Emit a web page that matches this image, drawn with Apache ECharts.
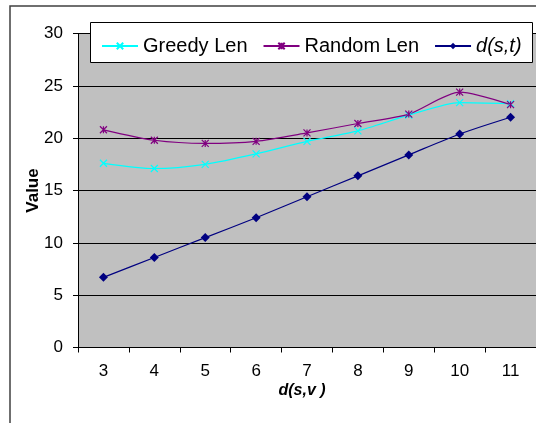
<!DOCTYPE html>
<html>
<head>
<meta charset="utf-8">
<script src="https://cdn.jsdelivr.net/npm/echarts@6/dist/echarts.min.js"></script>
<style>html,body{margin:0;padding:0;background:#fff;}#c{width:536px;height:423px;}</style>
</head>
<body>
<div id="c"></div>
<script>
var categories = ['3', '4', '5', '6', '7', '8', '9', '10', '11'];
var greedyLen = [17.6, 17.1, 17.5, 18.5, 19.7, 20.7, 22.2, 23.4, 23.3];
var randomLen = [20.8, 19.8, 19.5, 19.7, 20.5, 21.4, 22.3, 24.4, 23.2];
var dst = [6.7, 8.6, 10.5, 12.4, 14.4, 16.4, 18.4, 20.4, 22.0];
var yTicks = {min: 0, max: 30, interval: 5};

var FONT = '"Liberation Sans", Arial, sans-serif';
var chart = echarts.init(document.getElementById('c'), null, {renderer: 'canvas'});
var xMark = 'path://M0,0L10,10M10,0L0,10';
var starMark = 'path://M0,0L10,10M10,0L0,10M5,0L5,10';

chart.setOption({
  animation: false,
  backgroundColor: '#ffffff',
  graphic: [
    {type: 'rect', z: -10, shape: {x: 10, y: 6, width: 700, height: 700},
     style: {fill: '#ffffff', stroke: '#404040', lineWidth: 1.5}},
    {type: 'rect', z: 10, shape: {x: 90.5, y: 22.5, width: 442, height: 40},
     style: {fill: '#ffffff', stroke: '#000000', lineWidth: 1}}
  ],
  grid: {left: 78, top: 33.5, width: 466, height: 314, backgroundColor: '#c0c0c0', show: true, borderWidth: 0},
  legend: {
    z: 20,
    left: 96, top: 31, width: 440,
    itemWidth: 36, itemHeight: 8, itemGap: 15,
    textStyle: {fontFamily: FONT, fontSize: 20, color: '#000'},
    data: [
      {name: 'Greedy Len'},
      {name: 'Random Len'},
      {name: 'd(s,t)', textStyle: {fontStyle: 'italic'}}
    ]
  },
  xAxis: {
    type: 'category',
    data: categories,
    boundaryGap: true,
    name: '{i|d}{b|(s,v )}',
    nameLocation: 'middle',
    nameGap: 35,
    nameMoveOverlap: false,
    nameTextStyle: {
      padding: [0, 10, 0, 0],
      rich: {
        i: {fontFamily: FONT, fontSize: 16, fontWeight: 'bold', fontStyle: 'italic', color: '#000'},
        b: {fontFamily: FONT, fontSize: 16, fontWeight: 'bold', fontStyle: 'italic', color: '#000'}
      }
    },
    axisLine: {lineStyle: {color: '#000', width: 1}},
    axisTick: {show: true, length: 5, inside: false, alignWithLabel: false, lineStyle: {color: '#000'}},
    axisLabel: {fontFamily: FONT, fontSize: 17, color: '#000', margin: 15},
    splitLine: {show: false}
  },
  yAxis: {
    type: 'value',
    min: yTicks.min, max: yTicks.max, interval: yTicks.interval,
    name: 'Value',
    nameLocation: 'middle',
    nameGap: 36,
    nameMoveOverlap: false,
    nameTextStyle: {fontFamily: FONT, fontSize: 17, fontWeight: 'bold', color: '#000'},
    axisLine: {show: true, lineStyle: {color: '#000', width: 1}},
    axisTick: {show: true, length: 5, lineStyle: {color: '#000'}},
    axisLabel: {fontFamily: FONT, fontSize: 17, color: '#000', margin: 15},
    splitLine: {show: true, lineStyle: {color: '#000', width: 1}}
  },
  series: [
    {
      name: 'Greedy Len', type: 'line', data: greedyLen, smooth: 0.25,
      symbol: xMark, symbolSize: 7,
      lineStyle: {color: '#00ffff', width: 1.2},
      itemStyle: {color: '#00ffff', borderColor: '#00ffff', borderWidth: 1.2}
    },
    {
      name: 'Random Len', type: 'line', data: randomLen, smooth: 0.25,
      symbol: starMark, symbolSize: 7,
      lineStyle: {color: '#800080', width: 1.2},
      itemStyle: {color: '#800080', borderColor: '#800080', borderWidth: 1.2}
    },
    {
      name: 'd(s,t)', type: 'line', data: dst, smooth: 0.25,
      symbol: 'diamond', symbolSize: 9,
      lineStyle: {color: '#000080', width: 1.2},
      itemStyle: {color: '#000080'}
    }
  ]
});
</script>
</body>
</html>
